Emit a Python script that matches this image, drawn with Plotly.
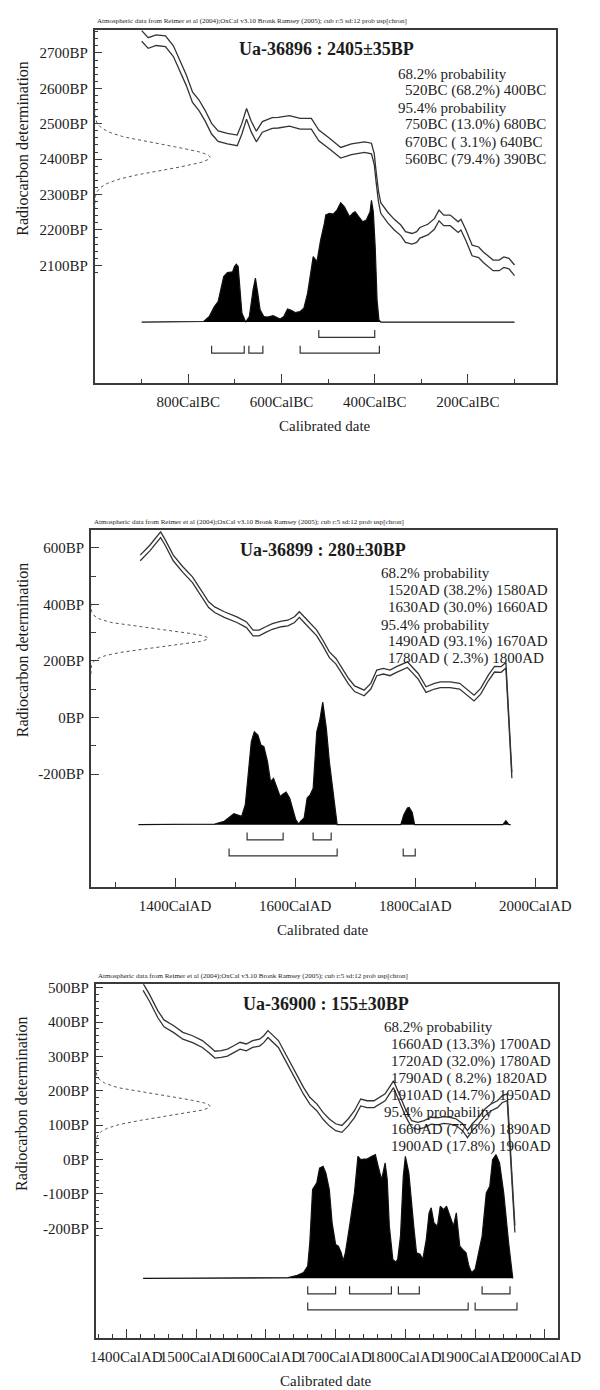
import numpy as np
import plotly.graph_objects as go

W, H = 600, 1390
FONT = "Liberation Serif, Times New Roman, serif"
INK = "#1c1c1c"
LINE = "#333333"

HEADER = ("Atmospheric data from Reimer et al (2004);OxCal v3.10 Bronk Ramsey (2005); "
          "cub r:5 sd:12 prob usp[chron]")

# ---------------- Ua-36896 ----------------
S1_LAB, S1_BP, S1_SD = "Ua-36896", 2405, 35
S1_CURVE_YEAR = [-900, -886, -869, -849, -832, -818, -804, -791, -777, -764, -750, -736, -716,
                 -695, -685, -675, -665, -654, -641, -620, -607, -583, -560, -536, -520, -497,
                 -473, -450, -422, -407, -401, -397, -392, -387, -372, -358, -344, -334, -320,
                 -310, -303, -286, -272, -262, -252, -238, -221, -215, -204, -191, -177, -167,
                 -146, -133, -123, -112, -100]
S1_CURVE_BP = [2748, 2728, 2736, 2733, 2705, 2664, 2622, 2575, 2552, 2523, 2486, 2465, 2458,
               2453, 2486, 2528, 2492, 2464, 2491, 2502, 2503, 2508, 2500, 2500, 2467, 2444,
               2418, 2428, 2434, 2430, 2400, 2350, 2295, 2262, 2235, 2215, 2199, 2180, 2175,
               2180, 2192, 2201, 2217, 2241, 2227, 2227, 2208, 2215, 2184, 2142, 2137, 2123,
               2100, 2100, 2109, 2105, 2086]
S1_CURVE_SIGMA = 15
S1_POST_YEAR = [-900, -767, -755, -744, -736, -728, -724, -716, -705, -701, -697, -693, -689,
                -685, -677, -669, -661, -656, -651, -646, -638, -630, -618, -610, -603, -595,
                -587, -579, -571, -560, -552, -544, -532, -524, -516, -508, -505, -497, -489,
                -481, -473, -465, -457, -454, -446, -442, -434, -426, -418, -410, -407, -403,
                -399, -395, -391, -387, -100]
S1_POST_P = [0, 0.005, 0.046, 0.128, 0.169, 0.320, 0.374, 0.407, 0.413, 0.456, 0.475, 0.456,
             0.265, 0.074, 0.0, 0.046, 0.265, 0.361, 0.238, 0.101, 0.046, 0.041, 0.052, 0.041,
             0.025, 0.046, 0.107, 0.096, 0.079, 0.087, 0.115, 0.238, 0.538, 0.497, 0.675, 0.811,
             0.880, 0.894, 0.888, 0.921, 0.981, 0.948, 0.893, 0.866, 0.899, 0.907, 0.866, 0.825,
             0.839, 0.907, 1.0, 0.907, 0.620, 0.183, 0.019, 0.0, 0.0]
S1_R68 = [(-520, 68.2, -400)]
S1_R95 = [(-750, 13.0, -680), (-670, 3.1, -640), (-560, 79.4, -390)]
S1_XMAJOR = [-800, -600, -400, -200]
S1_XMINOR = [-900, -700, -500, -300, -100]
S1_YMAJOR = [2100, 2200, 2300, 2400, 2500, 2600, 2700]
S1_YMINOR = [v for v in range(2080, 2761, 20) if v % 100]

# ---------------- Ua-36899 ----------------
S2_LAB, S2_BP, S2_SD = "Ua-36899", 280, 30
S2_CURVE_YEAR = [1342, 1358, 1376, 1384, 1397, 1413, 1429, 1445, 1456, 1466, 1482, 1503, 1519,
                 1530, 1540, 1551, 1562, 1577, 1588, 1599, 1607, 1615, 1625, 1636, 1646, 1657,
                 1668, 1678, 1689, 1699, 1715, 1726, 1736, 1747, 1758, 1768, 1779, 1787, 1795,
                 1805, 1818, 1832, 1842, 1858, 1874, 1885, 1898, 1909, 1922, 1932, 1943, 1951,
                 1961]
S2_CURVE_BP = [564, 599, 646, 617, 564, 523, 487, 434, 399, 381, 364, 346, 328, 299, 299, 311,
               322, 331, 334, 346, 364, 346, 322, 299, 264, 222, 199, 164, 128, 102, 87, 111,
               158, 164, 158, 169, 181, 187, 169, 146, 99, 111, 116, 116, 111, 93, 69, 93, 141,
               171, 170, 185, -204]
S2_CURVE_SIGMA = 10
S2_POST_YEAR = [1339, 1466, 1482, 1493, 1498, 1506, 1511, 1517, 1522, 1527, 1532, 1538, 1543,
                1548, 1554, 1559, 1564, 1570, 1575, 1580, 1585, 1591, 1596, 1601, 1606, 1609,
                1615, 1620, 1625, 1630, 1636, 1641, 1646, 1652, 1657, 1662, 1668, 1670, 1776,
                1781, 1787, 1790, 1795, 1799, 1946, 1951, 1956, 1959]
S2_POST_P = [0, 0.005, 0.027, 0.068, 0.089, 0.076, 0.068, 0.162, 0.405, 0.676, 0.757, 0.730,
             0.649, 0.635, 0.514, 0.351, 0.378, 0.297, 0.230, 0.249, 0.265, 0.216, 0.122, 0.041,
             0.005, 0.027, 0.054, 0.216, 0.243, 0.297, 0.757, 0.851, 1.0, 0.784, 0.514, 0.324,
             0.081, 0.0, 0.0, 0.08, 0.135, 0.14, 0.10, 0.0, 0.0, 0.032, 0.0, 0.0]
S2_R68 = [(1520, 38.2, 1580), (1630, 30.0, 1660)]
S2_R95 = [(1490, 93.1, 1670), (1780, 2.3, 1800)]
S2_XMAJOR = [1400, 1600, 1800, 2000]
S2_XMINOR = [1300, 1500, 1700, 1900]
S2_YMAJOR = [-200, 0, 200, 400, 600]
S2_YMINOR = [-100, 100, 300, 500]

# ---------------- Ua-36900 ----------------
S3_LAB, S3_BP, S3_SD = "Ua-36900", 155, 30
S3_CURVE_YEAR = [1424, 1433, 1445, 1454, 1468, 1481, 1495, 1509, 1518, 1527, 1536, 1545, 1554,
                 1563, 1572, 1581, 1591, 1597, 1603, 1609, 1618, 1627, 1636, 1645, 1654, 1663,
                 1673, 1682, 1691, 1700, 1709, 1718, 1727, 1736, 1745, 1755, 1764, 1771, 1777,
                 1783, 1791, 1800, 1809, 1818, 1827, 1837, 1846, 1855, 1864, 1873, 1882, 1889,
                 1896, 1905, 1914, 1923, 1932, 1939, 1946, 1957]
S3_CURVE_BP = [502, 471, 423, 396, 379, 360, 350, 336, 321, 305, 307, 311, 321, 331, 326, 336,
               340, 350, 365, 353, 336, 302, 268, 234, 200, 171, 152, 127, 108, 94, 89, 108,
               132, 166, 161, 161, 171, 181, 200, 219, 181, 137, 103, 98, 103, 113, 111, 115,
               113, 108, 94, 74, 94, 113, 137, 152, 161, 176, 181, -202]
S3_CURVE_SIGMA = 10
S3_POST_YEAR = [1424, 1632, 1645, 1654, 1660, 1663, 1667, 1673, 1677, 1682, 1686, 1691, 1695,
                1700, 1704, 1708, 1711, 1714, 1720, 1727, 1732, 1736, 1741, 1745, 1752, 1757,
                1761, 1766, 1771, 1774, 1777, 1782, 1786, 1789, 1793, 1797, 1800, 1805, 1812,
                1816, 1821, 1825, 1830, 1834, 1837, 1841, 1846, 1850, 1855, 1859, 1864, 1869,
                1873, 1878, 1882, 1887, 1891, 1895, 1900, 1905, 1910, 1916, 1921, 1925, 1930,
                1935, 1941, 1948, 1953, 1954]
S3_POST_P = [0, 0.005, 0.024, 0.046, 0.099, 0.288, 0.718, 0.772, 0.892, 0.906, 0.852, 0.718,
             0.449, 0.274, 0.261, 0.207, 0.140, 0.207, 0.422, 0.691, 0.987, 0.960, 0.965, 0.965,
             0.987, 1.0, 0.906, 0.798, 0.933, 0.798, 0.422, 0.153, 0.132, 0.153, 0.341, 0.825,
             0.987, 0.852, 0.422, 0.207, 0.194, 0.153, 0.315, 0.530, 0.570, 0.449, 0.422, 0.583,
             0.556, 0.583, 0.503, 0.422, 0.530, 0.261, 0.234, 0.207, 0.099, 0.046, 0.073, 0.207,
             0.341, 0.690, 0.745, 0.960, 1.0, 0.933, 0.690, 0.288, 0.019, 0.0]
S3_R68 = [(1660, 13.3, 1700), (1720, 32.0, 1780), (1790, 8.2, 1820), (1910, 14.7, 1950)]
S3_R95 = [(1660, 77.6, 1890), (1900, 17.8, 1960)]
S3_XMAJOR = [1400, 1500, 1600, 1700, 1800, 1900, 2000]
S3_XMINOR = [v for v in range(1360, 2011, 20) if v % 100]
S3_YMAJOR = [-200, -100, 0, 100, 200, 300, 400, 500]
S3_YMINOR = [v for v in range(-220, 501, 20) if v % 100]


def era_label(v, era):
    return f"{-v}Cal{era}" if era == "BC" else f"{v}Cal{era}"


def range_text(r, era):
    a, p, b = r
    if era == "BC":
        a, b = -a, -b
    return f"{a}{era} ({p:4.1f}%) {b}{era}"


SAMPLES = [
    dict(lab=S1_LAB, bp=S1_BP, sd=S1_SD, era="BC",
         cyear=S1_CURVE_YEAR, cbp=S1_CURVE_BP, csig=S1_CURVE_SIGMA,
         pyear=S1_POST_YEAR, pp=S1_POST_P, r68=S1_R68, r95=S1_R95,
         xmaj=S1_XMAJOR, xmin=S1_XMINOR, ymaj=S1_YMAJOR, ymin=S1_YMINOR,
         # layout geometry (pixels)
         frame=(94, 26, 578, 380), xr=(-1001, -11), yr=(1768, 2765),
         base=319, unit=122, gpeak=215, yminlen=4, xmajlen=9, xminlen=4.5,
         head=(94, 17), title=(337, 45), txt=(410, 70), ytitle=145, xtitle=(336, 423)),
    dict(lab=S2_LAB, bp=S2_BP, sd=S2_SD, era="AD",
         cyear=S2_CURVE_YEAR, cbp=S2_CURVE_BP, csig=S2_CURVE_SIGMA,
         pyear=S2_POST_YEAR, pp=S2_POST_P, r68=S2_R68, r95=S2_R95,
         xmaj=S2_XMAJOR, xmin=S2_XMINOR, ymaj=S2_YMAJOR, ymin=S2_YMINOR,
         frame=(90, 528, 578, 886), xr=(1259.7, 2034.5), yr=(-600, 661),
         base=823, unit=123, gpeak=213, yminlen=5, xmajlen=10, xminlen=6,
         head=(91, 519), title=(334, 548), txt=(392, 571), ytitle=648, xtitle=(334, 929)),
    dict(lab=S3_LAB, bp=S3_BP, sd=S3_SD, era="AD",
         cyear=S3_CURVE_YEAR, cbp=S3_CURVE_BP, csig=S3_CURVE_SIGMA,
         pyear=S3_POST_YEAR, pp=S3_POST_P, r68=S3_R68, r95=S3_R95,
         xmaj=S3_XMAJOR, xmin=S3_XMINOR, ymaj=S3_YMAJOR, ymin=S3_YMINOR,
         frame=(95, 983, 580, 1338), xr=(1355.9, 2018.7), yr=(-519.4, 510),
         base=1278, unit=124, gpeak=215, yminlen=3.5, xmajlen=9, xminlen=4,
         head=(95, 975), title=(337, 1003), txt=(395, 1026), ytitle=1103, xtitle=(337, 1381)),
]

BRACKET_ROWS = {"68": (-0.065, -0.125), "95": (-0.195, -0.255)}


def ax_key(kind, n):
    return f"{kind}axis" if n == 1 else f"{kind}axis{n}"


def ax_ref(kind, n):
    return kind if n == 1 else f"{kind}{n}"


fig = go.Figure()
layout = {}
annotations = []

for i, s in enumerate(SAMPLES):
    main, over = 2 * i + 1, 2 * i + 2
    xm, ym = ax_ref("x", main), ax_ref("y", main)
    xo, yo = ax_ref("x", over), ax_ref("y", over)
    x0, y0, x1, y1 = s["frame"]

    # calibration curve, mean +/- 1 sigma
    cy = np.array(s["cyear"], float)
    cb = np.array(s["cbp"], float)
    for sign in (1, -1):
        fig.add_trace(go.Scatter(x=cy, y=cb + sign * s["csig"], mode="lines",
                                 line=dict(color=LINE, width=1.3), xaxis=xm, yaxis=ym,
                                 hoverinfo="skip", showlegend=False))

    # radiocarbon measurement on the BP axis
    gb = np.linspace(s["bp"] - 4.2 * s["sd"], s["bp"] + 4.2 * s["sd"], 161)
    gx = np.exp(-0.5 * ((gb - s["bp"]) / s["sd"]) ** 2)
    fig.add_trace(go.Scatter(x=gx, y=gb, mode="lines",
                             line=dict(color="#555555", width=1, dash="dot"),
                             xaxis=xo, yaxis=ym, hoverinfo="skip", showlegend=False))

    # calibrated probability distribution
    fig.add_trace(go.Scatter(x=s["pyear"], y=s["pp"], mode="lines", fill="tozeroy",
                             fillcolor="#000000", line=dict(color="#111111", width=1.2),
                             xaxis=xm, yaxis=yo, hoverinfo="skip", showlegend=False))

    # range brackets
    for key, ranges in (("68", s["r68"]), ("95", s["r95"])):
        top, bot = BRACKET_ROWS[key]
        bx, by = [], []
        for a, _, b in ranges:
            bx += [a, a, b, b, None]
            by += [top, bot, bot, top, None]
        fig.add_trace(go.Scatter(x=bx, y=by, mode="lines", line=dict(color=LINE, width=1.2),
                                 xaxis=xm, yaxis=yo, hoverinfo="skip", showlegend=False))

    dom_x = [x0 / W, x1 / W]
    dom_y = [1 - y1 / H, 1 - y0 / H]
    tick_font = dict(family=FONT, size=15, color=INK)

    layout[ax_key("x", main)] = dict(
        domain=dom_x, anchor=ym, range=list(s["xr"]), showgrid=False, zeroline=False,
        showline=True, mirror=True, linecolor="#3a3a3a", linewidth=1.5,
        ticks="inside", ticklen=s["xmajlen"], tickwidth=1.3, tickcolor="#3a3a3a",
        tickmode="array", tickvals=s["xmaj"], tickangle=0,
        ticktext=[era_label(v, s["era"]) for v in s["xmaj"]],
        tickfont=tick_font, ticklabelstandoff=4,
        minor=dict(ticks="inside", ticklen=s["xminlen"], tickwidth=1.2, tickcolor="#3a3a3a",
                   tickmode="array", tickvals=s["xmin"], showgrid=False))
    layout[ax_key("y", main)] = dict(
        domain=dom_y, anchor=xm, range=list(s["yr"]), showgrid=False, zeroline=False,
        showline=True, mirror=True, linecolor="#3a3a3a", linewidth=1.5,
        ticks="inside", ticklen=8, tickwidth=1.3, tickcolor="#3a3a3a",
        tickmode="array", tickvals=s["ymaj"], ticktext=[f"{v}BP" for v in s["ymaj"]],
        tickfont=tick_font, ticklabelstandoff=2,
        minor=dict(ticks="inside", ticklen=s["yminlen"], tickwidth=1.1, tickcolor="#3a3a3a",
                   tickmode="array", tickvals=s["ymin"], showgrid=False))

    gmax = (x1 - x0) / (s["gpeak"] - x0)
    layout[ax_key("x", over)] = dict(overlaying=xm, anchor=ym, range=[0, gmax], visible=False)
    ylo = -(y1 - s["base"]) / s["unit"]
    yhi = (s["base"] - y0) / s["unit"]
    layout[ax_key("y", over)] = dict(overlaying=ym, anchor=xm, range=[ylo, yhi], visible=False)

    # texts
    hx, hy = s["head"]
    annotations.append(dict(text=HEADER, x=hx / W, y=1 - hy / H, xref="paper", yref="paper",
                            xanchor="left", yanchor="middle", showarrow=False,
                            font=dict(family=FONT, size=7, color=INK)))
    tx, ty = s["title"]
    annotations.append(dict(text=f"<b>{s['lab']} : {s['bp']}±{s['sd']}BP</b>",
                            x=tx / W, y=1 - ty / H, xref="paper", yref="paper",
                            xanchor="center", yanchor="middle", showarrow=False,
                            font=dict(family=FONT, size=18, color=INK)))
    lines = [("68.2% probability", 0)] + [(range_text(r, s["era"]), 1) for r in s["r68"]] + \
            [("95.4% probability", 0)] + [(range_text(r, s["era"]), 1) for r in s["r95"]]
    px0, py0 = s["txt"]
    for k, (t, indent) in enumerate(lines):
        annotations.append(dict(text=t, x=(px0 + 8 * indent) / W, y=1 - (py0 + 17.1 * k) / H,
                                xref="paper", yref="paper", xanchor="left", yanchor="middle",
                                showarrow=False, font=dict(family=FONT, size=15, color=INK)))
    annotations.append(dict(text="Radiocarbon determination", x=18 / W, y=1 - s["ytitle"] / H,
                            xref="paper", yref="paper", xanchor="center", yanchor="middle",
                            textangle=-90, showarrow=False,
                            font=dict(family=FONT, size=16, color=INK)))
    cx, cyy = s["xtitle"]
    annotations.append(dict(text="Calibrated date", x=cx / W, y=1 - cyy / H,
                            xref="paper", yref="paper", xanchor="center", yanchor="middle",
                            showarrow=False, font=dict(family=FONT, size=15, color=INK)))

fig.update_layout(width=W, height=H, margin=dict(l=0, r=0, t=0, b=0),
                  paper_bgcolor="white", plot_bgcolor="white", showlegend=False,
                  annotations=annotations, **layout)

fig.write_html("out.html")
